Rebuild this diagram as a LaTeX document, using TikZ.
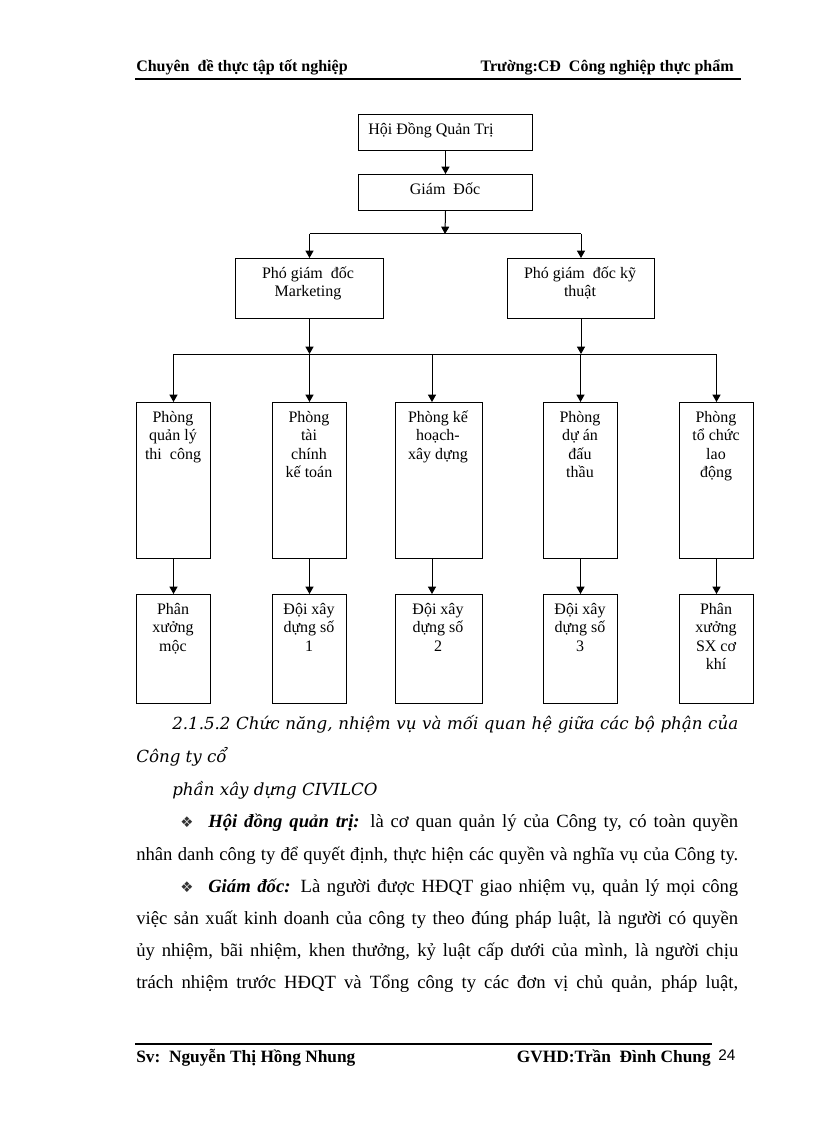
\documentclass[tikz,border=0pt]{standalone}
\usepackage{fontspec}
\setmainfont{Liberation Serif}
\newfontfamily\dejavusym{DejaVu Sans}
\newfontfamily\dejavuserif{DejaVu Serif}
\newfontfamily\arialfont{Liberation Sans}
\usetikzlibrary{arrows.meta}
\newcommand\boxtxt[1]{\begin{tabular}[t]{@{}c@{}}#1\end{tabular}}
\newcommand\bulletsym{{\dejavusym\fontsize{11}{11}\selectfont\color{black!80}❖}}
\begin{document}
\begin{tikzpicture}[x=0.75pt,y=-0.75pt,
  obox/.style 2 args={draw, line width=0.75pt, inner sep=0pt, anchor=north west,
    minimum width=#1*0.75pt, minimum height=#2*0.75pt},
  txt/.style={anchor=base, inner sep=0pt, font=\fontsize{12}{13.9}\selectfont},
  ln/.style={line width=0.75pt},
  arr/.style={line width=0.75pt, -{Triangle[length=5.5pt,width=6pt]}},
  hdr/.style={inner sep=0pt, font=\fontsize{12}{14}\selectfont\bfseries},
  ftr/.style={inner sep=0pt, font=\fontsize{13}{15}\selectfont\bfseries},
  body/.style={inner sep=0pt, anchor=base west, font=\fontsize{14}{16}\selectfont},
  head/.style={inner sep=0pt, anchor=base west, font=\dejavuserif\itshape\fontsize{12.5}{15}\selectfont},
  rule/.style={line width=1.5pt}]
\useasboundingbox (0,0) rectangle (816,1123);
\fill[white] (0,0) rectangle (816,1123);

% header
\node[hdr, anchor=base west] (hl) at (136,72) {Chuyên\ \ đề thực tập tốt nghiệp};
\node[hdr, anchor=base east] (hr) at (734,72) {Trường:CĐ\ \ Công nghiệp thực phẩm};
\coordinate (hA) at (135,79);
\coordinate (hB) at (741,79);
\draw[rule] (hA) -- (hB);

% top boxes
\node[obox={174}{36}] (hdqt) at (358,114) {};
\node[txt, anchor=base west] (hdqtT) at (368,135) {Hội Đồng Quản Trị};
\node[obox={174}{36}] (gd) at (358,174) {};
\node[txt] (gdT) at (445,195) {Giám\ \ Đốc};
\node[obox={148}{60}] (pgdm) at (235,258) {};
\node[txt] (pgdmT) at (308,278) {\boxtxt{Phó giám\ \ đốc\\Marketing}};
\node[obox={147}{60}] (pgdk) at (507,258) {};
\node[txt] (pgdkT) at (580,278) {\boxtxt{Phó giám\ \ đốc kỹ\\thuật}};

\draw[arr] (hdqt.south) -- (gd.north);
\coordinate (b1) at (445,234);
\draw[arr] (gd.south) -- (b1);
\draw[ln] (pgdm.north |- b1) -- (pgdk.north |- b1);
\draw[arr] (pgdm.north |- b1) -- (pgdm.north);
\draw[arr] (pgdk.north |- b1) -- (pgdk.north);

% column boxes
\node[obox={74}{156}] (c1) at (136,402) {};
\node[obox={74}{156}] (c2) at (272,402) {};
\node[obox={87}{156}] (c3) at (395,402) {};
\node[obox={74}{156}] (c4) at (543,402) {};
\node[obox={74}{156}] (c5) at (679,402) {};
\node[txt] (c1T) at (173,422) {\boxtxt{Phòng\\quản lý\\thi\ \ công}};
\node[txt] (c2T) at (309,422) {\boxtxt{Phòng\\tài\\chính\\kế toán}};
\node[txt] (c3T) at (438,422) {\boxtxt{Phòng kế\\hoạch-\\xây dựng}};
\node[txt] (c4T) at (580,422) {\boxtxt{Phòng\\dự án\\đấu\\thầu}};
\node[txt] (c5T) at (716,422) {\boxtxt{Phòng\\tổ chức\\lao\\động}};

% bottom boxes
\node[obox={74}{109}] (d1) at (136,594) {};
\node[obox={74}{109}] (d2) at (272,594) {};
\node[obox={87}{109}] (d3) at (395,594) {};
\node[obox={74}{109}] (d4) at (543,594) {};
\node[obox={74}{109}] (d5) at (679,594) {};
\node[txt] (d1T) at (173,614) {\boxtxt{Phân\\xưởng\\mộc}};
\node[txt] (d2T) at (309,614) {\boxtxt{Đội xây\\dựng số\\1}};
\node[txt] (d3T) at (438,614) {\boxtxt{Đội xây\\dựng số\\2}};
\node[txt] (d4T) at (580,614) {\boxtxt{Đội xây\\dựng số\\3}};
\node[txt] (d5T) at (716,614) {\boxtxt{Phân\\xưởng\\SX cơ\\khí}};

% bus
\coordinate (b2) at (445,354);
\coordinate (a3) at (432,354);
\draw[arr] (pgdm.south) -- (pgdm.south |- b2);
\draw[arr] (pgdk.south) -- (pgdk.south |- b2);
\draw[ln] (c1.north |- b2) -- (c5.north |- b2);
\draw[arr] (c1.north |- b2) -- (c1.north);
\draw[arr] (c2.north |- b2) -- (c2.north);
\draw[arr] (a3) -- (a3 |- c3.north);
\draw[arr] (c4.north |- b2) -- (c4.north);
\draw[arr] (c5.north |- b2) -- (c5.north);

\draw[arr] (c1.south) -- (d1.north);
\draw[arr] (c2.south) -- (d2.north);
\draw[arr] (a3 |- c3.south) -- (a3 |- d3.north);
\draw[arr] (c4.south) -- (d4.north);
\draw[arr] (c5.south) -- (d5.north);

% heading text
\node[head] (h1) at (172,729) {\makebox[424.5pt][s]{2.1.5.2 Chức năng, nhiệm vụ và mối quan hệ giữa các bộ phận của}};
\node[head] (h2) at (136,762) {Công ty cổ};
\node[head] (h3) at (172,795) {phần xây dựng CIVILCO};

% body text
\node[body] (bu1) at (180,827) {\bulletsym};
\node[body] (l1) at (208,827) {\makebox[397.5pt][s]{\textbf{\textit{Hội đồng quản trị:}} là cơ quan quản lý của Công ty, có toàn quyền}};
\node[body] (l2) at (136,860) {\makebox[451.5pt][s]{nhân danh công ty để quyết định, thực hiện các quyền và nghĩa vụ của Công ty.}};
\node[body] (bu2) at (180,892) {\bulletsym};
\node[body] (l3) at (208,892) {\makebox[397.5pt][s]{\textbf{\textit{Giám đốc:}} Là người  được HĐQT giao nhiệm vụ, quản lý mọi công}};
\node[body] (l4) at (136,924) {\makebox[451.5pt][s]{việc sản xuất kinh doanh của công ty theo đúng pháp luật, là người có quyền}};
\node[body] (l5) at (136,956) {\makebox[451.5pt][s]{ủy nhiệm, bãi nhiệm, khen thưởng, kỷ luật cấp dưới của mình, là người chịu}};
\node[body] (l6) at (136,988) {\makebox[451.5pt][s]{trách nhiệm trước HĐQT và Tổng công ty các đơn vị chủ quản, pháp luật,}};

% footer
\coordinate (fA) at (135,1044);
\coordinate (fB) at (712,1044);
\draw[rule] (fA) -- (fB);
\node[ftr, anchor=base west] (fl) at (136,1062) {Sv:\ \ Nguyễn Thị Hồng Nhung};
\node[ftr, anchor=base east] (fr) at (711,1062) {GVHD:Trần\ \ Đình Chung};
\node[inner sep=0pt, anchor=base west, font=\arialfont\fontsize{11.5}{13}\selectfont] (pg) at (718,1060) {24};
\end{tikzpicture}
\end{document}
